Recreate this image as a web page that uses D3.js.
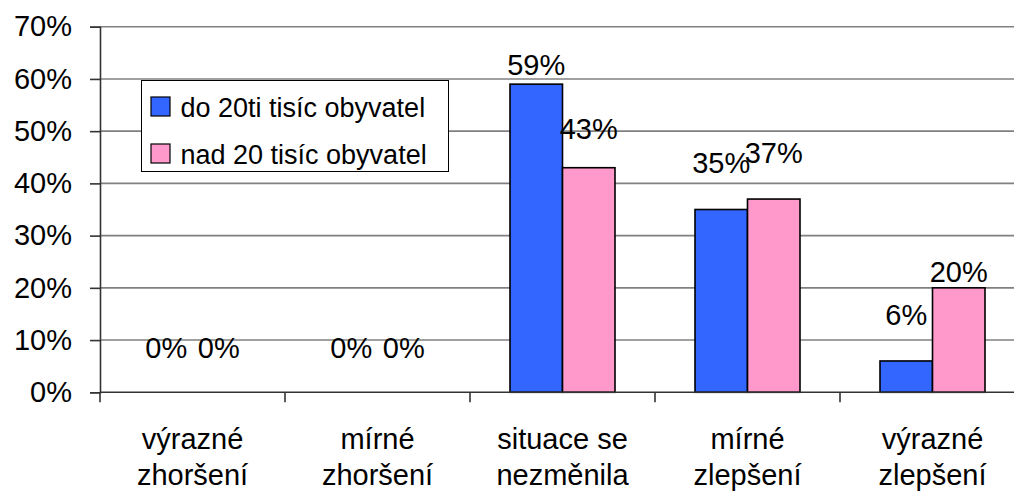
<!DOCTYPE html>
<html>
<head>
<meta charset="utf-8">
<script src="https://cdn.jsdelivr.net/npm/d3@7"></script>
<style>
  html, body { margin: 0; padding: 0; background: #fff; }
  svg { display: block; font-family: "Liberation Sans", Arial, sans-serif; }
</style>
</head>
<body>
<svg id="chart" width="1014" height="495"></svg>
<script>
// Category labels (two lines each)
const categories = [
  ["výrazné", "zhoršení"],
  ["mírné", "zhoršení"],
  ["situace se", "nezměnila"],
  ["mírné", "zlepšení"],
  ["výrazné", "zlepšení"]
];
const seriesNames = ["do 20ti tisíc obyvatel", "nad 20 tisíc obyvatel"];
const smallTowns = [0, 0, 0.59, 0.35, 0.06];
const largeTowns = [0, 0, 0.43, 0.37, 0.20];
const yTicks = [0, 0.1, 0.2, 0.3, 0.4, 0.5, 0.6, 0.7];

// Layout: how far each value label's baseline sits above its bar top (px)
const labelLiftSmall = [34, 34, 9, 37, 36];
const labelLiftLarge = [34, 34, 29, 36, 6];

const colors = ["#3366FF", "#FF99CC"];
const seriesValues = [smallTowns, largeTowns];
const labelLift = [labelLiftSmall, labelLiftLarge];

const svg = d3.select("#chart");
const plotLeft = 100, plotRight = 1025, plotTop = 26.7, plotBottom = 392.3;

const catKeys = categories.map((c, i) => i);
const x0 = d3.scaleBand().domain(catKeys).range([plotLeft, plotRight]).padding(0);
const x1 = d3.scaleBand().domain([0, 1]).range([0, x0.bandwidth()])
  .paddingInner(0).paddingOuter(0.762);
const y = d3.scaleLinear().domain([0, 0.7]).range([plotBottom, plotTop]);

// Horizontal gridlines
svg.append("g")
  .selectAll("line")
  .data(yTicks.filter(t => t > 0))
  .join("line")
  .attr("x1", plotLeft).attr("x2", 1014)
  .attr("y1", d => y(d)).attr("y2", d => y(d))
  .attr("stroke", "#808080").attr("stroke-width", 1.6);

// Y axis
const yAxis = svg.append("g")
  .attr("transform", `translate(${plotLeft},0)`)
  .call(d3.axisLeft(y).tickValues(yTicks).tickFormat(d3.format(".0%"))
    .tickSize(10).tickPadding(18));
yAxis.select(".domain").attr("stroke", "#333").attr("stroke-width", 1.6);
yAxis.selectAll(".tick line").attr("stroke", "#333").attr("stroke-width", 1.6);
yAxis.selectAll(".tick text")
  .attr("font-size", 29).attr("fill", "#000")
  .attr("font-family", "Liberation Sans, Arial, sans-serif");

// Bars
const groups = svg.append("g")
  .selectAll("g")
  .data(catKeys)
  .join("g")
  .attr("transform", d => `translate(${x0(d)},0)`);

groups.selectAll("rect")
  .data(ci => seriesValues.map((vals, si) => ({ si, ci, v: vals[ci] })))
  .join("rect")
  .filter(d => d.v > 0)
  .attr("x", d => x1(d.si))
  .attr("width", x1.bandwidth())
  .attr("y", d => y(d.v))
  .attr("height", d => y(0) - y(d.v))
  .attr("fill", d => colors[d.si])
  .attr("stroke", "#000").attr("stroke-width", 1.6);

// Value labels
groups.selectAll("text.val")
  .data(ci => seriesValues.map((vals, si) => ({ si, ci, v: vals[ci] })))
  .join("text")
  .attr("class", "val")
  .attr("x", d => x1(d.si) + x1.bandwidth() / 2)
  .attr("y", d => y(d.v) - labelLift[d.si][d.ci])
  .attr("text-anchor", "middle")
  .attr("font-size", 29)
  .text(d => d3.format(".0%")(d.v));

// X axis
const xAxis = svg.append("g")
  .attr("transform", `translate(0,${plotBottom})`);
xAxis.append("line")
  .attr("x1", plotLeft).attr("x2", 1014)
  .attr("y1", 0).attr("y2", 0)
  .attr("stroke", "#333").attr("stroke-width", 1.6);
xAxis.selectAll("line.tick")
  .data(d3.range(categories.length + 1))
  .join("line")
  .attr("class", "tick")
  .attr("x1", d => plotLeft + d * x0.bandwidth())
  .attr("x2", d => plotLeft + d * x0.bandwidth())
  .attr("y1", 0).attr("y2", 10)
  .attr("stroke", "#333").attr("stroke-width", 1.6);

const catText = xAxis.selectAll("text")
  .data(catKeys)
  .join("text")
  .attr("x", d => x0(d) + x0.bandwidth() / 2)
  .attr("text-anchor", "middle")
  .attr("font-size", 29);
catText.selectAll("tspan")
  .data(d => categories[d].map(line => ({ line, x: x0(d) + x0.bandwidth() / 2 })))
  .join("tspan")
  .attr("x", d => d.x)
  .attr("y", (d, i) => 57 + i * 35.5)
  .text(d => d.line);

// Legend
const legend = svg.append("g").attr("transform", "translate(141.5,80.5)");
legend.append("rect")
  .attr("width", 307).attr("height", 91)
  .attr("fill", "#fff").attr("stroke", "#000").attr("stroke-width", 1);
seriesNames.forEach((name, i) => {
  const row = legend.append("g").attr("transform", `translate(0,${i * 47})`);
  row.append("rect")
    .attr("x", 9.5).attr("y", 16.5).attr("width", 19).attr("height", 19)
    .attr("fill", colors[i]).attr("stroke", "#000").attr("stroke-width", 1.2);
  row.append("text")
    .attr("x", 39).attr("y", 36)
    .attr("font-size", 27)
    .text(name);
});
</script>
</body>
</html>
